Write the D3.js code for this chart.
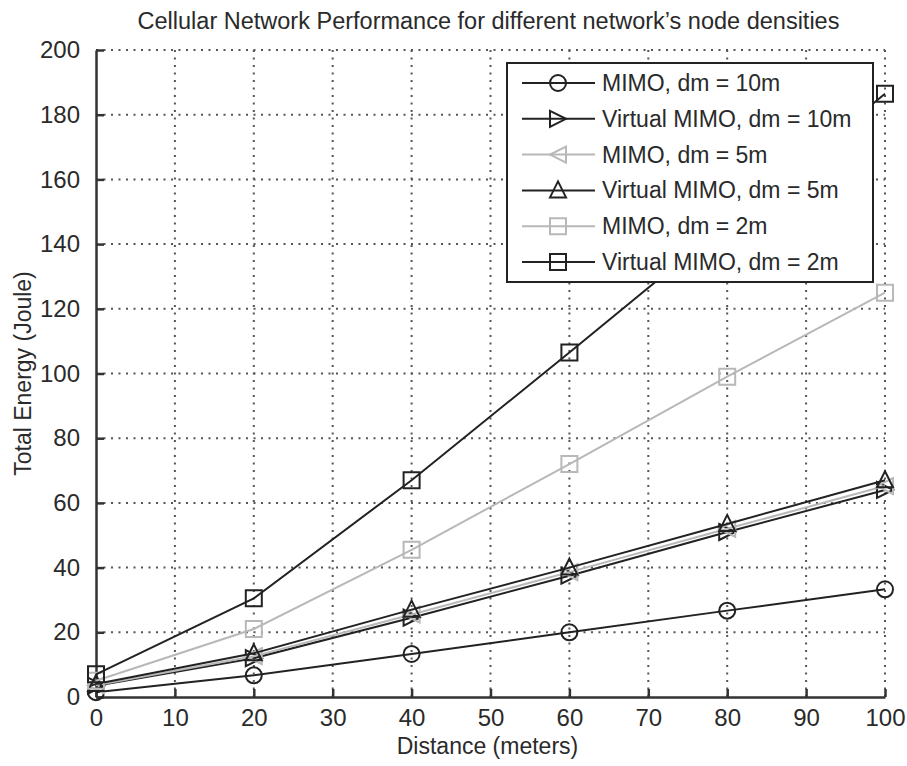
<!DOCTYPE html>
<html lang="en">
<head>
<meta charset="utf-8">
<title>Cellular Network Performance</title>
<script src="https://cdn.jsdelivr.net/npm/d3@7"></script>
<style>
    body { margin: 0; background: #fff; }
    svg { font-family: "Liberation Sans", Arial, sans-serif; }
    .grid line { stroke: #555; stroke-width: 2; stroke-dasharray: 2 5.5; }
    .axis path, .axis line { stroke: #333; stroke-width: 2.5; fill: none; }
    .axis text { font-size: 24px; fill: #2a2a2a; }
</style>
</head>
<body>
<script>
// distances on the x axis
var distances = [0, 20, 40, 60, 80, 100];

// energy values per series
var mimo10  = [1.5, 6.7, 13.3, 20, 26.7, 33.3];
var vmimo10 = [3.5, 12, 24.5, 37.5, 51, 64];
var mimo5   = [3.6, 12.6, 25.5, 38.6, 52, 65.2];
var vmimo5  = [4, 13.5, 27, 40, 53.5, 67];
var mimo2   = [5, 21, 45.5, 72, 99, 125];
var vmimo2  = [7, 30.5, 67, 106.5, 146.5, 186.5];

var seriesNames = ["MIMO, dm = 10m", "Virtual MIMO, dm = 10m", "MIMO, dm = 5m",
                   "Virtual MIMO, dm = 5m", "MIMO, dm = 2m", "Virtual MIMO, dm = 2m"];
var seriesValues = [mimo10, vmimo10, mimo5, vmimo5, mimo2, vmimo2];
var seriesColors = ["#222", "#222", "#b8b8b8", "#222", "#b8b8b8", "#222"];
var seriesMarkers = ["circle", "triRight", "triLeft", "triUp", "square", "square"];

var xTicks = [0, 10, 20, 30, 40, 50, 60, 70, 80, 90, 100];
var yTicks = [0, 20, 40, 60, 80, 100, 120, 140, 160, 180, 200];

var W = 907, H = 766;
var plot = {left: 96, right: 885, top: 50, bottom: 697};

var x = d3.scaleLinear().domain([0, 100]).range([plot.left, plot.right]);
var y = d3.scaleLinear().domain([0, 200]).range([plot.bottom, plot.top]);

var svg = d3.select("body").append("svg")
    .attr("width", W)
    .attr("height", H);

// dotted grid
var grid = svg.append("g").attr("class", "grid");
grid.selectAll(".gx").data(xTicks.slice(1)).enter().append("line")
    .attr("x1", function (d) { return x(d); })
    .attr("x2", function (d) { return x(d); })
    .attr("y1", plot.bottom)
    .attr("y2", plot.top);
grid.selectAll(".gy").data(yTicks.slice(1)).enter().append("line")
    .attr("x1", plot.left)
    .attr("x2", plot.right)
    .attr("y1", function (d) { return y(d); })
    .attr("y2", function (d) { return y(d); });

// axes with inward ticks
svg.append("g")
    .attr("class", "axis")
    .attr("transform", "translate(0," + plot.bottom + ")")
    .call(d3.axisBottom(x).tickValues(xTicks).tickSize(-8).tickSizeOuter(0).tickPadding(12))
    .selectAll("text").attr("dy", "0.71em");

svg.append("g")
    .attr("class", "axis")
    .attr("transform", "translate(" + plot.left + ",0)")
    .call(d3.axisLeft(y).tickValues(yTicks).tickSize(-8).tickSizeOuter(0).tickPadding(16));

// marker shapes
function markerPath(type) {
    var s = 8;
    if (type === "circle") return d3.symbol().type(d3.symbolCircle).size(Math.PI * 64)();
    if (type === "square") return "M" + -s + "," + -s + "H" + s + "V" + s + "H" + -s + "Z";
    if (type === "triRight") return "M" + -s + "," + -s + "L" + s + ",0L" + -s + "," + s + "Z";
    if (type === "triLeft") return "M" + s + "," + -s + "L" + -s + ",0L" + s + "," + s + "Z";
    return "M0," + (-s - 1) + "L" + s + "," + (s - 1) + "L" + -s + "," + (s - 1) + "Z";
}

var line = d3.line()
    .x(function (d) { return x(d[0]); })
    .y(function (d) { return y(d[1]); });

seriesValues.forEach(function (vals, i) {
    var pts = distances.map(function (d, j) { return [d, vals[j]]; });
    var g = svg.append("g");
    g.append("path")
        .attr("d", line(pts))
        .attr("fill", "none")
        .attr("stroke", seriesColors[i])
        .attr("stroke-width", 2);
    g.selectAll("path.mk").data(pts).enter().append("path")
        .attr("class", "mk")
        .attr("d", markerPath(seriesMarkers[i]))
        .attr("transform", function (d) { return "translate(" + x(d[0]) + "," + y(d[1]) + ")"; })
        .attr("fill", "none")
        .attr("stroke", seriesColors[i])
        .attr("stroke-width", 2);
});

// legend
var leg = svg.append("g").attr("transform", "translate(507,63)");
leg.append("rect")
    .attr("width", 366)
    .attr("height", 219)
    .attr("fill", "#fff")
    .attr("stroke", "#222")
    .attr("stroke-width", 2);
seriesNames.forEach(function (name, i) {
    var row = leg.append("g").attr("transform", "translate(0," + (20 + i * 35.8) + ")");
    row.append("line")
        .attr("x1", 15).attr("x2", 88)
        .attr("stroke", seriesColors[i])
        .attr("stroke-width", 2);
    row.append("path")
        .attr("d", markerPath(seriesMarkers[i]))
        .attr("transform", "translate(51,0)")
        .attr("fill", "none")
        .attr("stroke", seriesColors[i])
        .attr("stroke-width", 2);
    row.append("text")
        .attr("x", 95)
        .attr("dy", "0.35em")
        .style("font-size", "23px")
        .style("fill", "#2a2a2a")
        .text(name);
});

// titles
svg.append("text")
    .attr("x", (plot.left + plot.right) / 2 - 2)
    .attr("y", 29)
    .attr("text-anchor", "middle")
    .style("font-size", "23.5px")
    .style("fill", "#2a2a2a")
    .text("Cellular Network Performance for different network\u2019s node densities");

svg.append("text")
    .attr("x", (plot.left + plot.right) / 2 - 3)
    .attr("y", 754)
    .attr("text-anchor", "middle")
    .style("font-size", "23px")
    .style("fill", "#2a2a2a")
    .text("Distance (meters)");

svg.append("text")
    .attr("transform", "translate(31," + ((plot.top + plot.bottom) / 2) + ") rotate(-90)")
    .attr("text-anchor", "middle")
    .style("font-size", "23px")
    .style("fill", "#2a2a2a")
    .text("Total Energy (Joule)");
</script>
</body>
</html>
